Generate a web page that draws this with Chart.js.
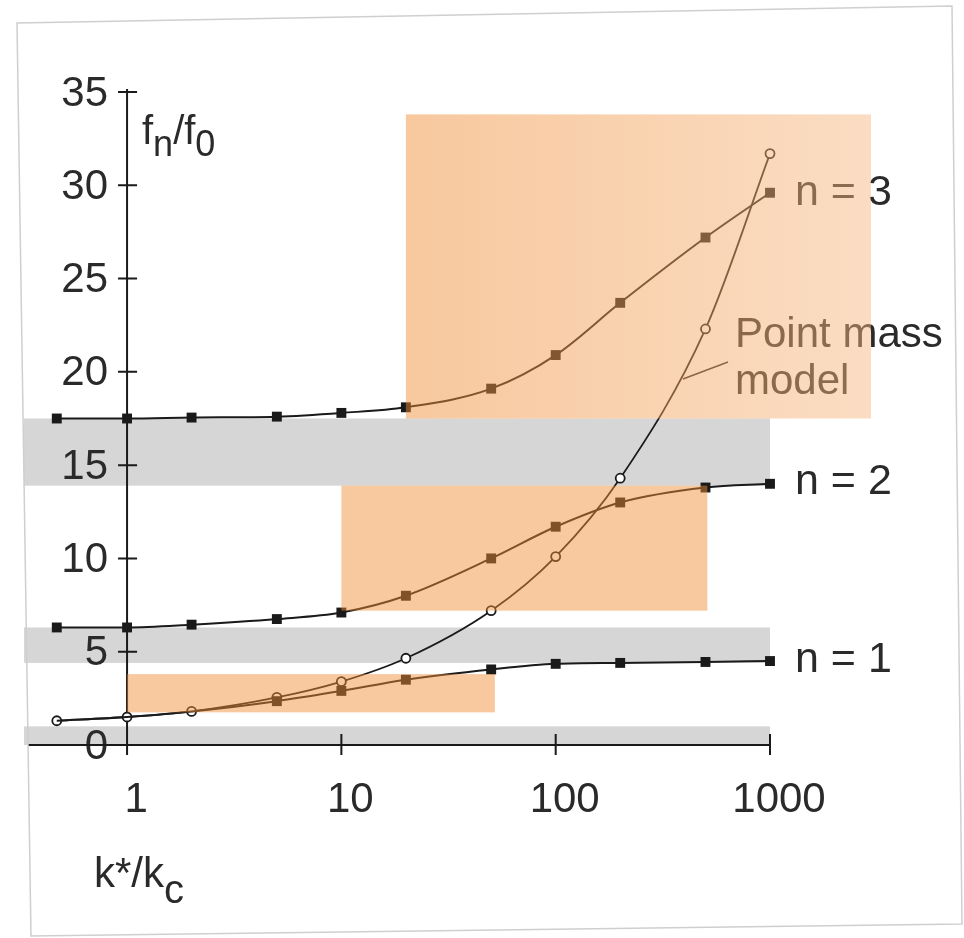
<!DOCTYPE html>
<html>
<head>
<meta charset="utf-8">
<script src="https://cdn.jsdelivr.net/npm/chart.js@4.4.1/dist/chart.umd.min.js"></script>
<style>
  html, body { margin: 0; padding: 0; background: #fff; }
  #wrap { width: 964px; height: 938px; position: relative; }
</style>
</head>
<body>
<div id="wrap"><canvas id="chartFreq"></canvas></div>
<script>
// k*/kc values (log axis)
const kRatio = [0.47, 1, 2, 5, 10, 20, 50, 100, 200, 500, 1000];

// fn/f0 per mode
const modeN3 = [17.5, 17.5, 17.55, 17.6, 17.8, 18.1, 19.1, 20.9, 23.7, 27.2, 29.6];
const modeN2 = [6.3, 6.3, 6.45, 6.75, 7.1, 8.0, 10.0, 11.7, 13.0, 13.8, 14.0];
const modeN1 = [1.3, 1.5, 1.8, 2.35, 2.9, 3.5, 4.05, 4.35, 4.4, 4.45, 4.5];
const pointMass = [1.3, 1.5, 1.8, 2.55, 3.4, 4.65, 7.2, 10.1, 14.3, 22.3, 31.7];

// axis ticks
const xTicks = [1, 10, 100, 1000];
const yTicks = [0, 5, 10, 15, 20, 25, 30, 35];

// grey bands (fn/f0 low, high) and orange boxes (k from, k to, fn/f0 low, high)
const greyBands = [[0, 1.0], [4.4, 6.3], [13.9, 17.5]];
const orangeBoxes = [
    [20, 2960, 17.5, 33.8],
    [10, 510, 7.2, 13.9],
    [1, 52, 1.75, 3.8],
];
const axisStartK = 0.345;

const INK = "#1a1a1a";
const TEXT = "#2a2a2a";
const FONT = "'Liberation Sans', Arial, sans-serif";

function toPoints(ys) {
    return kRatio.map((k, i) => ({ x: k, y: ys[i] }));
}

// draws text with subscripts: parts = [[text, isSub], ...]
function drawSubText(ctx, parts, x, y, size, subSize, subDrop) {
    let cx = x;
    parts.forEach(([t, sub]) => {
        ctx.font = (sub ? subSize : size) + "px " + FONT;
        ctx.fillText(t, cx, sub ? y + subDrop : y);
        cx += ctx.measureText(t).width;
    });
}

const overlayPlugin = {
    id: "overlayPlugin",
    beforeDatasetsDraw(chart) {
        const { ctx } = chart;
        const xs = chart.scales.x;
        const ys = chart.scales.y;
        const xl = xs.getPixelForValue(axisStartK);
        const xr = xs.getPixelForValue(1000);
        const x1 = xs.getPixelForValue(1);
        const y0 = ys.getPixelForValue(0);
        ctx.save();

        // grey bands
        ctx.fillStyle = "#d6d6d6";
        greyBands.forEach(([lo, hi]) => {
            const top = ys.getPixelForValue(hi);
            const bot = ys.getPixelForValue(lo);
            ctx.fillRect(xl - 4, top, xr - xl + 4, bot - top);
        });

        // y tick labels, on top of the bands
        ctx.fillStyle = TEXT;
        ctx.font = "42px " + FONT;
        ctx.textAlign = "right";
        ctx.textBaseline = "middle";
        yTicks.forEach((v) => {
            ctx.fillText(String(v), x1 - 19, ys.getPixelForValue(v) + 2);
        });

        // axes
        ctx.strokeStyle = INK;
        ctx.lineWidth = 2;
        ctx.beginPath();
        ctx.moveTo(xl, y0);
        ctx.lineTo(xr, y0);
        ctx.moveTo(x1, ys.getPixelForValue(35) - 3);
        ctx.lineTo(x1, y0 + 10);
        yTicks.forEach((v) => {
            if (v === 0) return;
            const py = ys.getPixelForValue(v);
            ctx.moveTo(x1 - 9, py);
            ctx.lineTo(x1 + 10, py);
        });
        xTicks.forEach((v) => {
            if (v === 1) return;
            const px = xs.getPixelForValue(v);
            ctx.moveTo(px, y0 - 11);
            ctx.lineTo(px, y0 + 10);
        });
        ctx.stroke();
        ctx.restore();
    },
    afterDatasetsDraw(chart) {
        const { ctx } = chart;
        const xs = chart.scales.x;
        const ys = chart.scales.y;
        ctx.save();

        // labels
        ctx.fillStyle = TEXT;
        ctx.textBaseline = "alphabetic";
        ctx.textAlign = "left";
        const xEnd = xs.getPixelForValue(1000) + 25;
        ctx.font = "43px " + FONT;
        ctx.fillText("n = 3", xEnd, ys.getPixelForValue(modeN3[10]) + 12);
        ctx.fillText("n = 2", xEnd, ys.getPixelForValue(modeN2[10]) + 10);
        ctx.fillText("n = 1", xEnd, ys.getPixelForValue(modeN1[10]) + 11);

        ctx.font = "42px " + FONT;
        ctx.fillText("Point mass", 735, 347);
        ctx.fillText("model", 735, 394);
        ctx.strokeStyle = TEXT;
        ctx.lineWidth = 1.6;
        ctx.beginPath();
        ctx.moveTo(683, 379);
        ctx.lineTo(728, 362);
        ctx.stroke();

        drawSubText(ctx, [["f", 0], ["n", 1], ["/f", 0], ["0", 1]], 142, 144, 40, 36, 12);
        drawSubText(ctx, [["k*/k", 0], ["c", 1]], 94, 887, 42, 40, 16);

        // orange boxes, laid over everything like a translucent highlighter
        orangeBoxes.forEach(([k0, k1, lo, hi], i) => {
            const left = xs.getPixelForValue(k0);
            const right = xs.getPixelForValue(k1);
            const top = ys.getPixelForValue(hi);
            const bot = ys.getPixelForValue(lo);
            if (i === 0) {
                const g = ctx.createLinearGradient(left, 0, right, 0);
                g.addColorStop(0, "rgba(240,140,52,0.48)");
                g.addColorStop(1, "rgba(246,183,129,0.48)");
                ctx.fillStyle = g;
            } else {
                ctx.fillStyle = "rgba(240,140,52,0.48)";
            }
            ctx.fillRect(left, top, right - left, bot - top);
        });
        ctx.restore();
    },
    afterDraw(chart) {
        // faint outline of the scanned page
        const { ctx } = chart;
        ctx.save();
        ctx.strokeStyle = "#cfcfcf";
        ctx.lineWidth = 1.5;
        ctx.beginPath();
        ctx.moveTo(17, 23);
        ctx.lineTo(952, 6);
        ctx.lineTo(962, 924);
        ctx.lineTo(31, 936);
        ctx.closePath();
        ctx.stroke();
        ctx.restore();
    },
};

const ctx = document.getElementById("chartFreq").getContext("2d");

const squareSet = (label, ys, radii) => ({
    label: label,
    data: toPoints(ys),
    borderColor: INK,
    backgroundColor: INK,
    borderWidth: 2,
    pointStyle: "rect",
    pointRadius: radii,
    pointBorderWidth: 0,
    cubicInterpolationMode: "monotone",
    clip: false,
});

new Chart(ctx, {
    type: "line",
    data: {
        datasets: [
            squareSet("n = 3", modeN3, 7),
            squareSet("n = 2", modeN2, 7),
            squareSet("n = 1", modeN1, [0, 0, 0, 7, 7, 7, 7, 7, 7, 7, 7]),
            {
                label: "Point mass model",
                data: toPoints(pointMass),
                borderColor: INK,
                backgroundColor: "#ffffff",
                borderWidth: 1.8,
                pointStyle: "circle",
                pointRadius: 4.5,
                pointBorderWidth: 1.8,
                cubicInterpolationMode: "monotone",
                clip: false,
            },
        ],
    },
    options: {
        responsive: true,
        maintainAspectRatio: false,
        animation: false,
        layout: { padding: { top: 92, right: 194, bottom: 0, left: 0 } },
        plugins: {
            legend: { display: false },
            tooltip: { enabled: false },
        },
        scales: {
            x: {
                type: "logarithmic",
                min: axisStartK,
                max: 1000,
                afterFit: (s) => {
                    s.height = 193;
                    s.paddingLeft = 0;
                    s.paddingRight = 0;
                },
                afterBuildTicks: (s) => { s.ticks = xTicks.map((v) => ({ value: v })); },
                border: { display: false },
                grid: { display: false, drawTicks: false },
                ticks: {
                    color: TEXT,
                    font: { family: FONT, size: 42 },
                    padding: 30,
                    labelOffset: 9,
                    maxRotation: 0,
                    autoSkip: false,
                    callback: (v) => String(v),
                },
            },
            y: {
                min: 0,
                max: 35,
                afterFit: (s) => {
                    s.width = 15;
                    s.paddingTop = 0;
                    s.paddingBottom = 0;
                },
                afterBuildTicks: (s) => { s.ticks = yTicks.map((v) => ({ value: v })); },
                border: { display: false },
                grid: { display: false, drawTicks: false },
                ticks: { display: false },
            },
        },
    },
    plugins: [overlayPlugin],
});
</script>
</body>
</html>
